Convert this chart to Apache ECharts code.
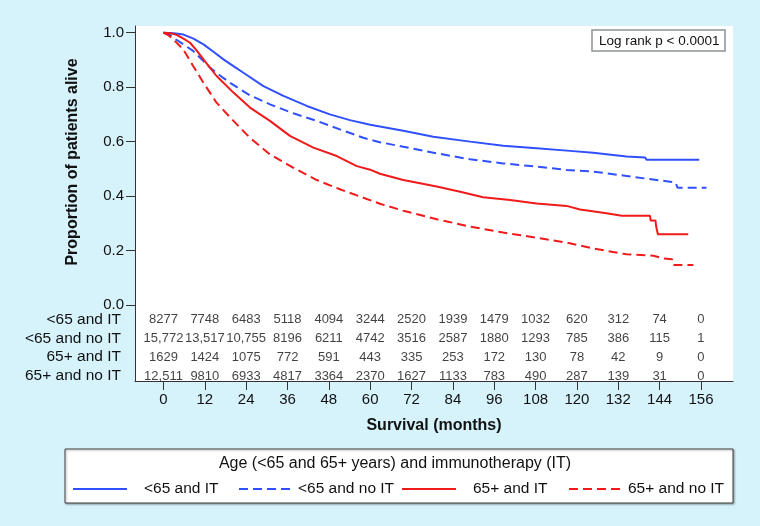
<!DOCTYPE html>
<html>
<head>
<meta charset="utf-8">
<script src="https://cdn.jsdelivr.net/npm/echarts@6/dist/echarts.min.js"></script>
<style>
html,body{margin:0;padding:0;background:#d6f3fb;}
#chart{width:760px;height:526px;}
</style>
</head>
<body>
<div id="chart"></div>
<script>
// ---- Data ----
const seriesNames = ['<65 and IT', '<65 and no IT', '65+ and IT', '65+ and no IT'];

// Kaplan–Meier curves: [month, proportion alive]
const lt65IT = [[0,1.0],[3,0.998],[5.8,0.993],[8.7,0.978],[11.6,0.957],[14.5,0.93],[17.4,0.902],[20.3,0.877],[23.2,0.853],[29,0.804],[34.8,0.768],[41.6,0.731],[48.3,0.700],[54.1,0.679],[60,0.662],[69.6,0.640],[78.3,0.618],[89,0.600],[98.6,0.585],[108.3,0.576],[118,0.566],[124.7,0.559],[134.4,0.545],[139.8,0.542],[140.2,0.533],[155.5,0.533]];
const lt65NoIT = [[0,1.0],[1.5,0.995],[2.8,0.982],[5.7,0.958],[8.6,0.933],[11,0.903],[13.5,0.872],[16.4,0.843],[19.3,0.816],[25.1,0.770],[30.9,0.737],[37.7,0.704],[44.5,0.676],[51.2,0.645],[58,0.614],[62.8,0.598],[69.6,0.581],[79.3,0.557],[89,0.535],[98.6,0.520],[108.3,0.508],[117,0.496],[124.7,0.490],[134.4,0.474],[140.2,0.464],[147,0.453],[148.6,0.450],[149.2,0.431],[157.6,0.431]];
const ge65IT = [[0,1.0],[2,0.998],[3.8,0.992],[5.8,0.978],[7.7,0.963],[9.6,0.935],[11.6,0.902],[15.4,0.841],[20.3,0.780],[25.1,0.725],[30.9,0.676],[36.7,0.621],[43.5,0.578],[50.3,0.547],[56.1,0.510],[60,0.497],[62.8,0.482],[69.6,0.459],[79.3,0.435],[86.1,0.416],[92.8,0.396],[100.6,0.386],[108.3,0.373],[117,0.364],[120.9,0.351],[128.6,0.337],[133,0.328],[141.2,0.328],[141.4,0.310],[142.8,0.310],[143,0.288],[143.4,0.288],[143.5,0.260],[152.3,0.260]];
const ge65NoIT = [[0,1.0],[1.5,0.99],[2.8,0.976],[5.7,0.939],[8.6,0.878],[11.6,0.816],[15.4,0.743],[20.3,0.676],[25.1,0.614],[30.9,0.553],[37.7,0.504],[44.5,0.459],[51.2,0.425],[58,0.394],[62.8,0.372],[69.6,0.346],[79.3,0.315],[89,0.288],[98.6,0.266],[108.3,0.247],[117,0.229],[124.7,0.208],[134.4,0.186],[142.2,0.181],[145.1,0.171],[147.6,0.168],[148,0.147],[153.8,0.147]];

// Numbers at risk
const riskMonths = [0,12,24,36,48,60,72,84,96,108,120,132,144,156];
const riskLt65IT = [8277,7748,6483,5118,4094,3244,2520,1939,1479,1032,620,312,74,0];
const riskLt65NoIT = [15772,13517,10755,8196,6211,4742,3516,2587,1880,1293,785,386,115,1];
const riskGe65IT = [1629,1424,1075,772,591,443,335,253,172,130,78,42,9,0];
const riskGe65NoIT = [12511,9810,6933,4817,3364,2370,1627,1133,783,490,287,139,31,0];

// Tick labels
const yTicks = [0,0.2,0.4,0.6,0.8,1.0];
const xTicks = [0,12,24,36,48,60,72,84,96,108,120,132,144,156];

// ---- Chart ----
const FONT = '"Liberation Sans", Arial, Helvetica, sans-serif';
const BLUE = '#3050ff';
const RED = '#f01a1a';
const AX = '#333333';

const riskRows = [riskLt65IT, riskLt65NoIT, riskGe65IT, riskGe65NoIT];
const riskData = [];
riskRows.forEach((row, r) => {
  row.forEach((v, i) => riskData.push([riskMonths[i], r, v]));
});
function fmtCount(n) {
  return n >= 10000 ? String(n).replace(/\B(?=(\d{3})+(?!\d))/g, ',') : String(n);
}

const curveData = [lt65IT, lt65NoIT, ge65IT, ge65NoIT];
const colors = [BLUE, BLUE, RED, RED];
const dashed = [false, true, false, true];

const xMin = -8.27, xMax = 165.3;

const chart = echarts.init(document.getElementById('chart'), null, {renderer: 'canvas'});
const option = {
  backgroundColor: '#d6f3fb',
  animation: false,
  textStyle: {fontFamily: FONT, color: '#111'},
  graphic: [{
    type: 'rect',
    shape: {x: 65, y: 449, width: 668, height: 54},
    style: {fill: '#ffffff', stroke: '#444', lineWidth: 1,
      shadowBlur: 2, shadowOffsetX: 1, shadowOffsetY: 1, shadowColor: 'rgba(0,0,0,0.35)'},
    z: -1
  }],
  title: [{
    text: 'Log rank p < 0.0001',
    left: 592, top: 30,
    padding: [4, 6, 3, 7],
    borderColor: '#8c9292', borderWidth: 1.5,
    backgroundColor: '#fff',
    textStyle: {fontFamily: FONT, fontSize: 13.5, fontWeight: 'normal', color: '#111'}
  }, {
    text: 'Age (<65 and 65+ years) and immunotherapy (IT)',
    left: 395, top: 456, textAlign: 'center', padding: 0,
    textStyle: {fontFamily: FONT, fontSize: 16, fontWeight: 'normal', color: '#111'}
  }],
  legend: seriesNames.map((name, i) => ({
    left: [72, 238, 401, 568][i],
    top: 481,
    padding: 0,
    itemWidth: 54, itemHeight: 14,
    itemStyle: {opacity: 0},
    data: [{name: name, textStyle: {padding: (i % 2 === 0) ? [0,0,0,12] : 0}}],
    textStyle: {fontFamily: FONT, fontSize: 15.5, color: '#111'}
  })),
  grid: [{
    left: 135, top: 26, width: 598, height: 279,
    show: true, backgroundColor: '#fff', borderWidth: 0
  }, {
    left: 135, top: 305, width: 598, height: 76,
    show: true, backgroundColor: '#fff', borderWidth: 0
  }],
  xAxis: [{
    gridIndex: 0, type: 'value', min: xMin, max: xMax, show: false
  }, {
    gridIndex: 1, type: 'value', min: xMin, max: xMax,
    name: 'Survival (months)', nameLocation: 'middle', nameGap: 37,
    nameTextStyle: {fontFamily: FONT, fontSize: 16, fontWeight: 'bold', color: '#111'},
    axisLine: {show: true, onZero: false, lineStyle: {color: AX, width: 1}},
    axisTick: {show: true, length: 9, lineStyle: {color: AX}, customValues: xTicks},
    axisLabel: {fontFamily: FONT, fontSize: 15, color: '#111', margin: 11, customValues: xTicks},
    splitLine: {show: false}
  }],
  yAxis: [{
    gridIndex: 0, type: 'value', min: 0, max: 1.0246,
    name: 'Proportion of patients alive', nameLocation: 'middle', nameGap: 54,
    nameTextStyle: {fontFamily: FONT, fontSize: 16, fontWeight: 'bold', color: '#111', padding: [0,0,0,7]},
    axisLine: {show: true, onZero: false, lineStyle: {color: AX, width: 1}},
    axisTick: {show: true, length: 9, lineStyle: {color: AX}, customValues: yTicks},
    axisLabel: {fontFamily: FONT, fontSize: 15, color: '#111', margin: 11, customValues: yTicks,
      formatter: v => v.toFixed(1)},
    splitLine: {show: false}
  }, {
    gridIndex: 1, type: 'value', min: -0.77, max: 3.265, inverse: true,
    axisLine: {show: true, onZero: false, lineStyle: {color: AX, width: 1}},
    axisTick: {show: false},
    axisLabel: {fontFamily: FONT, fontSize: 15.5, color: '#111', margin: 14, customValues: [0,1,2,3],
      formatter: v => seriesNames[Math.round(v)]},
    splitLine: {show: false}
  }],
  series: curveData.map((d, i) => ({
    name: seriesNames[i],
    type: 'line',
    xAxisIndex: 0, yAxisIndex: 0,
    data: d,
    symbol: 'none',
    showSymbol: false,
    clip: true,
    lineStyle: {color: colors[i], width: 2, type: dashed[i] ? [9, 5] : 'solid'},
    itemStyle: {color: colors[i]}
  })).concat([{
    name: 'risk',
    type: 'scatter',
    xAxisIndex: 1, yAxisIndex: 1,
    data: riskData,
    symbolSize: 1,
    itemStyle: {color: 'rgba(0,0,0,0)'},
    label: {
      show: true, position: 'inside',
      fontFamily: FONT, fontSize: 13, color: '#111',
      formatter: p => fmtCount(p.value[2])
    }
  }])
};
chart.setOption(option);
</script>
</body>
</html>
